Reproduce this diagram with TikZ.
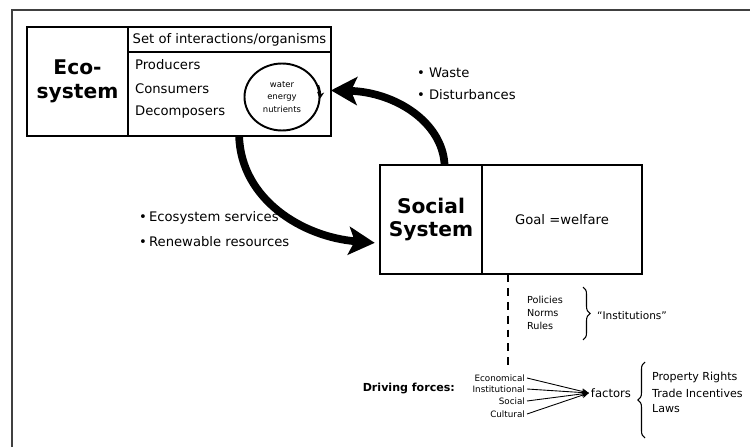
\documentclass[tikz,border=0pt]{standalone}
\usepackage{fontspec}
\setmainfont{DejaVu Sans}
\usetikzlibrary{arrows.meta, positioning, calc, shapes.geometric, decorations.pathreplacing}

\begin{document}
\begin{tikzpicture}[
  every node/.style={font=\fontsize{7.5}{9}\selectfont},
  cellbox/.style={rectangle, draw, line width=1.7pt, minimum height=2.18cm, align=center, inner sep=0pt, outer sep=0pt},
  namefont/.style={font=\fontsize{11.5}{13.5}\selectfont\bfseries},
  headbox/.style={rectangle, draw, line width=1.1pt, minimum width=4.06cm, minimum height=0.5cm, inner sep=0pt, outer sep=0pt},
  txt/.style={anchor=west, inner sep=1pt},
  smalltxt/.style={font=\fontsize{5.5}{7.6}\selectfont, align=left, inner sep=1pt},
  tinytxt/.style={font=\fontsize{5}{6}\selectfont, anchor=east, inner sep=1pt},
  bigarrow/.style={line width=4.4pt, -{Stealth[length=0.52cm, width=0.56cm, inset=0.12cm]}},
  dashline/.style={line width=1.6pt, dash pattern=on 4.5pt off 3.4pt},
  thinline/.style={line width=0.5pt, -{Stealth[length=4pt, width=3.5pt]}},
  bracebar/.style={decorate, decoration={brace, amplitude=4pt}, line width=0.6pt},
]
\useasboundingbox (0,0) rectangle (15,8.94);

% Frame (cut off at right and bottom)
\draw[line width=1.1pt, black!75] (0.24,0) -- (0.24,8.74) -- (15,8.74);

% Ecosystem box
\node[cellbox, namefont, minimum width=2.02cm] (econame) at (1.55,7.31) {Eco-\\system};
\node[cellbox, minimum width=4.06cm, anchor=west] (ecobody) at (econame.east) {};
\node[headbox, anchor=north] (ecohead) at (ecobody.north) {Set of interactions/organisms};

\node[txt] (prod) at (2.66,7.64) {Producers};
\node[txt] (cons) at (2.66,7.16) {Consumers};
\node[txt] (decomp) at (2.66,6.70) {Decomposers};

\node[ellipse, draw, line width=1.1pt, minimum width=1.5cm, minimum height=1.34cm, inner sep=0pt, align=center, font=\fontsize{4.8}{7}\selectfont] (cyc) at (5.64,7.0) {water\\energy\\nutrients};
\draw[line width=1.1pt, -{Stealth[length=4pt, width=4pt]}] (cyc.18) arc[x radius=0.75cm, y radius=0.67cm, start angle=18, end angle=-6];

% Social system box
\node[cellbox, namefont, minimum width=2.04cm] (socname) at (8.62,4.55) {Social\\System};
\node[cellbox, minimum width=3.2cm, anchor=west] (socbody) at (socname.east) {Goal =welfare};

% Flows between the two systems
\draw[bigarrow, shorten >=3pt] (ecobody.-80) .. controls (4.82,4.95) and (6.05,4.2) .. (socname.205);
\draw[bigarrow] (socname.76) .. controls (8.85,6.5) and (7.9,7.1) .. (ecobody.-5);

\node[txt] (waste) at (8.3,7.48) {\textbullet\ Waste};
\node[txt] (dist) at (8.3,7.04) {\textbullet\ Disturbances};
\node[txt] (ecoserv) at (2.74,4.58) {\textbullet\,Ecosystem services};
\node[txt] (renew) at (2.74,4.10) {\textbullet\,Renewable resources};

% Institutions
\coordinate (dashend) at (10.16,1.64);
\draw[dashline] (socbody.south -| dashend) -- (dashend);

\node[smalltxt, anchor=west] (inst) at (10.5,2.68) {Policies\\Norms\\Rules};
\draw[bracebar] (11.66,3.2) -- (11.66,2.14);
\node[smalltxt, anchor=west, font=\fontsize{6}{7}\selectfont] (instlabel) at (11.9,2.62) {“Institutions”};

% Driving forces
\node[anchor=east, inner sep=1pt, font=\fontsize{6.3}{7.5}\selectfont\bfseries] (drive) at (9.14,1.18) {Driving forces:};
\node[tinytxt] (econ) at (10.54,1.38) {Economical};
\node[tinytxt] (instit) at (10.54,1.16) {Institutional};
\node[tinytxt] (social) at (10.54,0.92) {Social};
\node[tinytxt] (cult) at (10.54,0.66) {Cultural};

\node[inner sep=1pt, font=\fontsize{6.6}{8}\selectfont] (factors) at (12.22,1.08) {factors};
\draw[thinline] (econ.east) -- (factors.west);
\draw[thinline] (instit.east) -- (factors.west);
\draw[thinline] (social.east) -- (factors.west);
\draw[thinline] (cult.east) -- (factors.west);

\draw[bracebar] (12.9,0.18) -- (12.9,1.7);
\node[smalltxt, anchor=west, font=\fontsize{6.3}{7.5}\selectfont] (propr) at (13.0,1.40) {Property Rights};
\node[smalltxt, anchor=west, font=\fontsize{6.3}{7.5}\selectfont] (trade) at (13.0,1.08) {Trade Incentives};
\node[smalltxt, anchor=west, font=\fontsize{6.3}{7.5}\selectfont] (laws) at (13.0,0.76) {Laws};

\end{tikzpicture}
\end{document}
